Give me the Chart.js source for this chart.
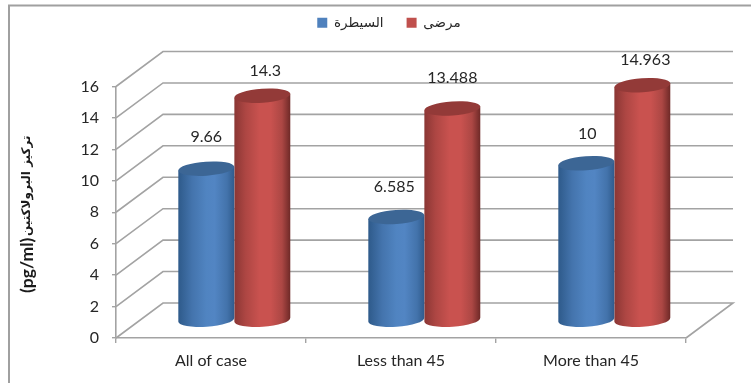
<!DOCTYPE html>
<html lang="en">
<head>
    <meta charset="UTF-8">
    <title>Prolactin concentration</title>
    <script src="https://cdn.jsdelivr.net/npm/chart.js"></script>
    <style>
        html, body { margin: 0; padding: 0; background: #fff; overflow: hidden; }
        #chart-box { width: 751px; height: 383px; }
    </style>
</head>
<body>
    <div id="chart-box"><canvas id="prolactin-chart"></canvas></div>

    <script>
        const categories = ['All of case', 'Less than 45', 'More than 45'];
        const controlValues = [9.66, 6.585, 10];
        const patientValues = [14.3, 13.488, 14.963];
        const controlName = 'السيطرة';
        const patientName = 'مرضى';
        const axisTitleName = 'تركيز البرولاكتين';
        const axisTitleUnit = '(pg/ml)';
        const yMax = 16;
        const yStep = 2;

        // how far each value label sits above the top of its cylinder, and its sideways nudge
        const controlLift = [32, 30, 29];
        const patientLift = [25, 31, 25];
        const controlNudge = [0, -2, 1];
        const patientNudge = [3, 0, 3];

        const FONT = "Lato, 'DejaVu Sans', sans-serif";
        const LINE = '#a3a3a3';
        // depth of the fake 3D box, and where the bars stand inside it
        const WALL_DX = 47, WALL_DY = -35;
        const BAR_DX = 23.3, BAR_DY = -17.5;
        const CAP_RY = 7, CAP_TILT = -0.07;

        const shades = {
            '#4f81bd': {
                cap: '#3c6695',
                stops: [[0, '#2e5a8a'], [0.25, '#4474ad'], [0.5, '#5084c1'], [0.65, '#5285c3'], [0.87, '#4373ab'], [1, '#305b8d']]
            },
            '#c0504d': {
                cap: '#933a38',
                stops: [[0, '#8a3634'], [0.2, '#ad4643'], [0.45, '#c9524f'], [0.65, '#c9524f'], [0.85, '#ac4744'], [1, '#6e2927']]
            }
        };

        // bars become tilted cylinders, still placed by the value and category scales
        Chart.BarElement.prototype.draw = function (ctx) {
            const { x, y, base, width } = this.getProps(['x', 'y', 'base', 'width']);
            const shade = shades[this.options.backgroundColor];
            const cx = x + BAR_DX;
            const rx = width / 2;
            const topY = y + BAR_DY;
            const botY = base + BAR_DY;
            const ex = rx * Math.cos(CAP_TILT);
            const ey = rx * Math.sin(CAP_TILT);

            const grad = ctx.createLinearGradient(cx - rx, 0, cx + rx, 0);
            shade.stops.forEach(s => grad.addColorStop(s[0], s[1]));

            ctx.save();
            ctx.beginPath();
            ctx.moveTo(cx - ex, topY - ey);
            ctx.ellipse(cx, botY, rx, CAP_RY, CAP_TILT, Math.PI, 0, true);
            ctx.lineTo(cx + ex, topY + ey);
            ctx.closePath();
            ctx.fillStyle = grad;
            ctx.fill();

            ctx.beginPath();
            ctx.ellipse(cx, topY, rx, CAP_RY, CAP_TILT, 0, Math.PI * 2);
            ctx.fillStyle = shade.cap;
            ctx.fill();
            ctx.restore();
        };

        const frameAndWalls = {
            id: 'frameAndWalls',
            afterLayout(chart) {
                // legend sits at the very top, right of the page centre
                chart.legend.left += 46;
                chart.legend.right += 46;
                chart.legend.top -= 47;
                chart.legend.bottom -= 47;
            },
            beforeDraw(chart) {
                const ctx = chart.ctx;
                ctx.save();
                ctx.strokeStyle = '#a0a0a0';
                ctx.lineWidth = 2;
                ctx.beginPath();
                ctx.moveTo(751, 5.5);
                ctx.lineTo(9, 5.5);
                ctx.lineTo(9, 383);
                ctx.stroke();
                ctx.restore();
            },
            beforeDatasetsDraw(chart) {
                const ctx = chart.ctx;
                const yScale = chart.scales.y;
                const left = chart.chartArea.left;
                const right = chart.chartArea.right;
                ctx.save();
                ctx.strokeStyle = LINE;
                ctx.lineWidth = 1.6;
                for (let v = 0; v <= yMax; v += yStep) {
                    const py = yScale.getPixelForValue(v);
                    ctx.beginPath();
                    ctx.moveTo(left, py);
                    ctx.lineTo(left + WALL_DX, py + WALL_DY);
                    ctx.lineTo(right + WALL_DX, py + WALL_DY);
                    if (v === 0) ctx.lineTo(right, py);
                    ctx.stroke();
                }
                ctx.restore();
            },
            afterDatasetsDraw(chart) {
                const ctx = chart.ctx;
                const lifts = [controlLift, patientLift];
                const nudges = [controlNudge, patientNudge];
                ctx.save();
                ctx.font = '16px ' + FONT;
                ctx.fillStyle = '#262626';
                ctx.textAlign = 'center';
                ctx.textBaseline = 'middle';
                chart.data.datasets.forEach((ds, i) => {
                    chart.getDatasetMeta(i).data.forEach((bar, j) => {
                        ctx.fillText(String(ds.data[j]), bar.x + BAR_DX + nudges[i][j], bar.y + BAR_DY - lifts[i][j]);
                    });
                });
                ctx.restore();
            },
            afterDraw(chart) {
                // the axis title mixes two sizes, so it is set in two runs
                const ctx = chart.ctx;
                ctx.save();
                ctx.translate(27, 293);
                ctx.rotate(-Math.PI / 2);
                ctx.fillStyle = '#1a1a1a';
                ctx.textBaseline = 'middle';
                ctx.textAlign = 'left';
                ctx.font = 'bold 17.5px ' + FONT;
                ctx.fillText(axisTitleUnit, 0, 0);
                ctx.font = "bold 12px 'DejaVu Sans', sans-serif";
                ctx.fillText(axisTitleName, 57, 0);
                ctx.restore();
            }
        };

        new Chart(document.getElementById('prolactin-chart'), {
            type: 'bar',
            data: {
                labels: categories,
                datasets: [
                    { label: controlName, data: controlValues, backgroundColor: '#4f81bd', categoryPercentage: 0.59, barPercentage: 1, clip: false },
                    { label: patientName, data: patientValues, backgroundColor: '#c0504d', categoryPercentage: 0.59, barPercentage: 1, clip: false }
                ]
            },
            options: {
                responsive: true,
                maintainAspectRatio: false,
                animation: false,
                layout: { padding: { top: 40, right: 65, left: 0, bottom: 0 } },
                plugins: {
                    tooltip: { enabled: false },
                    legend: {
                        position: 'top',
                        labels: {
                            boxWidth: 10,
                            boxHeight: 10,
                            padding: 23,
                            color: '#262626',
                            font: { family: FONT, size: 13.5 }
                        }
                    }
                },
                scales: {
                    x: {
                        afterFit(scale) { scale.height = 45; },
                        grid: { drawOnChartArea: false, color: LINE, tickLength: 5, lineWidth: 1.4 },
                        border: { color: LINE, width: 1.6 },
                        ticks: { color: '#262626', padding: 8, maxRotation: 0, font: { family: FONT, size: 16 } }
                    },
                    y: {
                        min: 0,
                        max: yMax,
                        afterFit(scale) { scale.width = 116; },
                        grid: { drawOnChartArea: false, color: LINE, tickLength: 4, lineWidth: 1.4 },
                        border: { color: LINE, width: 1.6 },
                        ticks: { stepSize: yStep, color: '#262626', padding: 13, font: { family: FONT, size: 16 } }
                    }
                }
            },
            plugins: [frameAndWalls]
        });
    </script>
</body>
</html>
